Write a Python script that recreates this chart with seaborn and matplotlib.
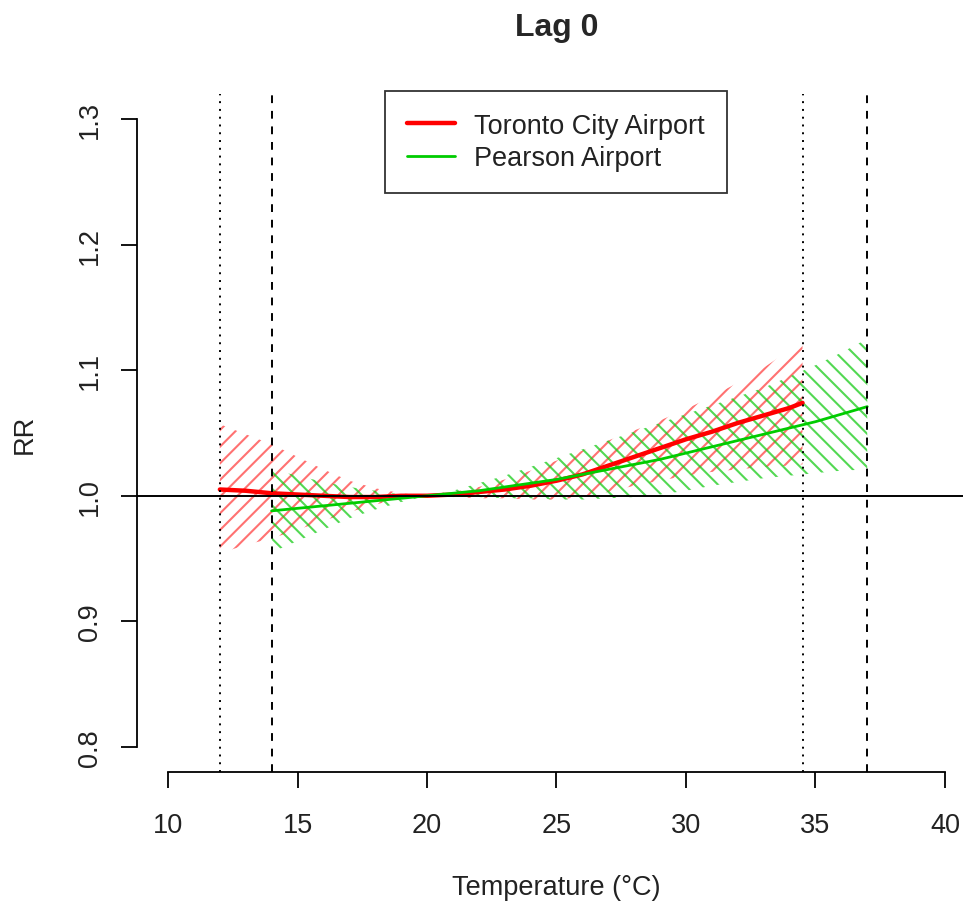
import numpy as np
import matplotlib
matplotlib.use("Agg")
import matplotlib.pyplot as plt
import seaborn as sns

# Toronto City Airport (red)
city_temp = [12, 13, 14, 15, 16, 17, 18, 19, 20, 21, 22, 23, 24, 25, 26, 27,
             28, 29, 30, 31, 32, 33, 34, 34.5]
city_rr = [1.005, 1.004, 1.002, 1.001, 1.000, 0.999, 0.999, 1.000, 1.000, 1.001,
           1.003, 1.005, 1.008, 1.012, 1.017, 1.024, 1.031, 1.038, 1.045, 1.051,
           1.058, 1.064, 1.070, 1.074]
city_hi = [1.057, 1.049, 1.041, 1.031, 1.021, 1.012, 1.006, 1.002, 1.000, 1.003,
           1.007, 1.013, 1.020, 1.028, 1.036, 1.044, 1.052, 1.060, 1.069, 1.079,
           1.090, 1.102, 1.116, 1.124]
city_lo = [0.954, 0.961, 0.966, 0.973, 0.980, 0.987, 0.993, 0.998, 1.000, 0.999,
           0.998, 0.998, 0.997, 0.997, 0.999, 1.003, 1.008, 1.012, 1.016, 1.019,
           1.021, 1.023, 1.024, 1.025]

# Pearson Airport (green)
pearson_temp = [14, 15, 16, 17, 18, 19, 20, 21, 22, 23, 24, 25, 26, 27, 28, 29,
                30, 31, 32, 33, 34, 35, 36, 37]
pearson_rr = [0.988, 0.990, 0.992, 0.994, 0.996, 0.998, 1.000, 1.002, 1.004, 1.007,
              1.010, 1.013, 1.017, 1.021, 1.025, 1.029, 1.034, 1.039, 1.044, 1.049,
              1.054, 1.059, 1.065, 1.071]
pearson_hi = [1.021, 1.016, 1.011, 1.007, 1.004, 1.001, 1.000, 1.004, 1.010, 1.016,
              1.023, 1.030, 1.037, 1.044, 1.051, 1.058, 1.065, 1.072, 1.079, 1.086,
              1.095, 1.104, 1.114, 1.125]
pearson_lo = [0.955, 0.964, 0.973, 0.982, 0.989, 0.995, 1.000, 1.000, 0.999, 0.998,
              0.998, 0.997, 0.997, 0.998, 0.999, 1.001, 1.004, 1.008, 1.011, 1.014,
              1.016, 1.018, 1.020, 1.021]

# reference lines (percentiles of each station)
dotted_x = [12, 34.5]
dashed_x = [14, 37]

x_ticks = [10, 15, 20, 25, 30, 35, 40]
y_ticks = [0.8, 0.9, 1.0, 1.1, 1.2, 1.3]

sns.set_style("white")
plt.rcParams['font.family'] = ['Liberation Sans', 'DejaVu Sans']
plt.rcParams['hatch.linewidth'] = 1.5

fig = plt.figure(figsize=(9.63, 9.04), dpi=100)
ax = fig.add_axes([137 / 963, 131 / 904, 839 / 963, 678 / 904])

red = '#FF0000'
green = '#00CC00'

# confidence bands as hatched polygons
ax.fill_between(city_temp, city_lo, city_hi, facecolor='none',
                edgecolor=(1, 0.15, 0.15, 0.65), hatch='//', linewidth=0)
ax.fill_between(pearson_temp, pearson_lo, pearson_hi, facecolor='none',
                edgecolor=(0.1, 0.8, 0.1, 0.75), hatch='\\\\', linewidth=0)

sns.lineplot(x=city_temp, y=city_rr, color=red, lw=3.2, ax=ax,
             label='Toronto City Airport')
sns.lineplot(x=pearson_temp, y=pearson_rr, color=green, lw=2, ax=ax,
             label='Pearson Airport')

for xv in dotted_x:
    ax.axvline(xv, color='black', lw=1.4, ls=(0, (1, 3)))
for xv in dashed_x:
    ax.axvline(xv, color='black', lw=1.4, ls=(0, (4, 4)))
ax.axhline(1.0, color='black', lw=1.4)

ax.set_xlim(8.8, 41.2)
ax.set_ylim(0.78, 1.32)
ax.set_xticks(x_ticks)
ax.set_yticks(y_ticks)
ax.set_yticklabels([f"{v:.1f}" for v in y_ticks], rotation=90, va='center')

for s in ['top', 'right']:
    ax.spines[s].set_visible(False)
ax.spines['left'].set_bounds(0.8, 1.3)
ax.spines['bottom'].set_bounds(10, 40)
for s in ['left', 'bottom']:
    ax.spines[s].set_color('black')
    ax.spines[s].set_linewidth(1.3)

ax.tick_params(axis='both', direction='out', length=11.5, width=1.3,
               color='black', labelsize=19.5, labelcolor='#222222',
               bottom=True, left=True)
ax.tick_params(axis='x', pad=17)
ax.tick_params(axis='y', pad=13)

ax.set_xlabel('Temperature (°C)', fontsize=19.5, color='#222222', va='center')
ax.xaxis.set_label_coords(0.5, -0.1696)
ax.set_ylabel('RR', fontsize=19.5, color='#222222', va='center')
ax.yaxis.set_label_coords(-0.1335, 0.5)

ax.set_title('Lag 0', fontsize=23, fontweight='bold', y=1.099, va='center', pad=0)

leg = ax.legend(loc='upper left', bbox_to_anchor=(0.2956, 1.0044),
                fontsize=19.5, frameon=True, fancybox=False, edgecolor='black',
                handlelength=1.8, handletextpad=0.7, borderpad=0.8,
                labelspacing=0.25, borderaxespad=0)
leg.get_frame().set_linewidth(1.3)
for t in leg.get_texts():
    t.set_color('#222222')

fig.savefig('out.png', dpi=100)
